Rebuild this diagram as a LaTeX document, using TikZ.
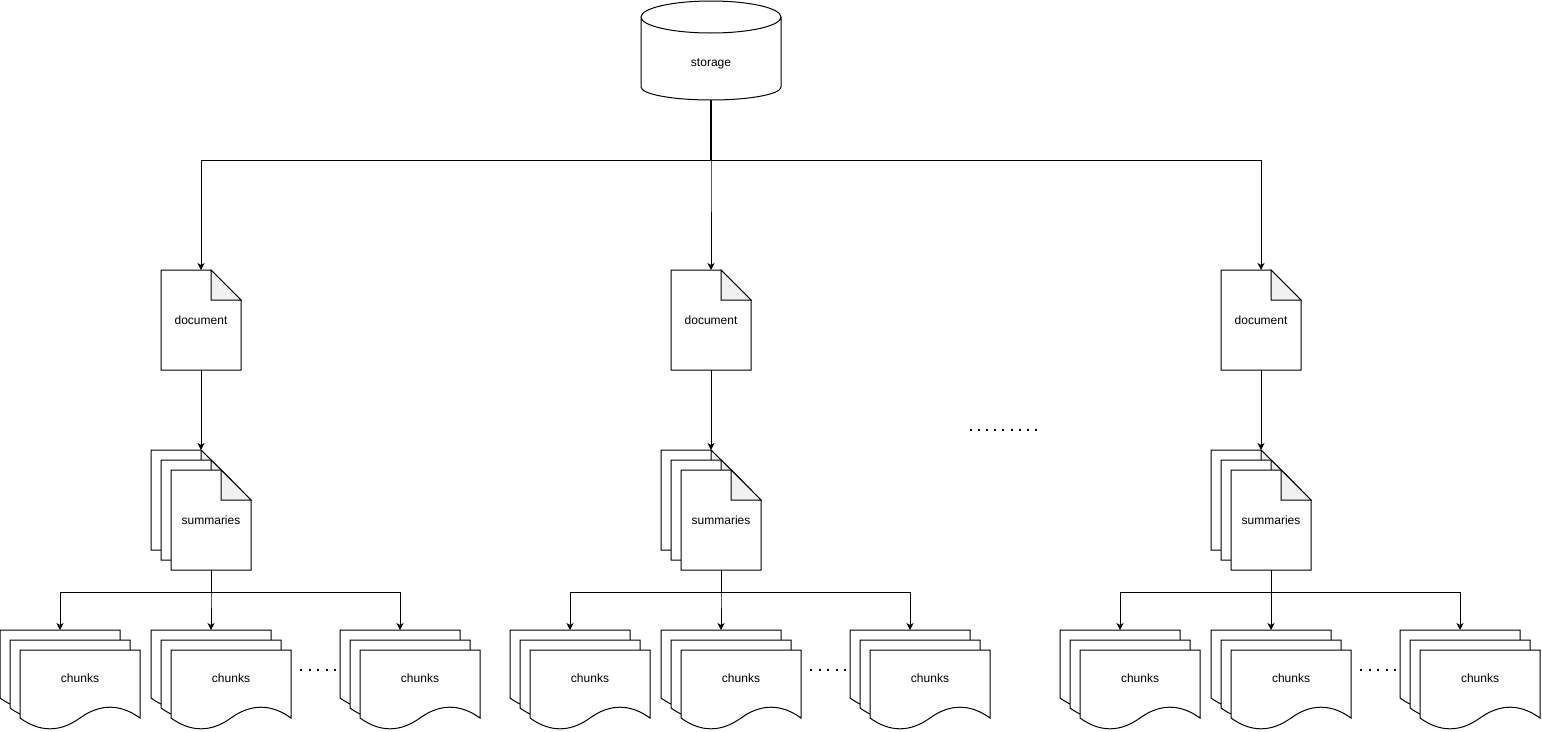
\documentclass[tikz,border=0pt]{standalone}
\usepackage{fontspec}
\setmainfont{Liberation Sans}
\usetikzlibrary{positioning, arrows.meta, calc, backgrounds}
\definecolor{foldgray}{HTML}{F1F1F1}

% folded sheet drawn round a named node
\newcommand{\foldsheet}[1]{%
  \draw[sheet] (#1.north west) -- ([xshift=-30pt]#1.north east) -- ([yshift=-30pt]#1.north east) -- (#1.south east) -- (#1.south west) -- cycle;
  \draw[sheet, fill=foldgray] ([xshift=-30pt]#1.north east) -- ([shift={(-30pt,-30pt)}]#1.north east) -- ([yshift=-30pt]#1.north east) -- cycle;}
% sheet with a wavy foot drawn round a named node
\newcommand{\wavesheet}[1]{%
  \draw[sheet] (#1.north west) -- (#1.north east) -- ([yshift=12pt]#1.south east)
    .. controls ([shift={(-20pt,26.4pt)}]#1.south east) and ([shift={(-40pt,26.4pt)}]#1.south east) .. ([shift={(-60pt,12pt)}]#1.south east)
    .. controls ([shift={(-80pt,-2.4pt)}]#1.south east) and ([shift={(-100pt,-2.4pt)}]#1.south east) .. ([yshift=12pt]#1.south west) -- cycle;}

\begin{document}
\begin{tikzpicture}[x=1pt, y=1pt,
    font=\fontsize{12pt}{14pt}\selectfont,
    sheet/.style={draw=black, fill=white, line width=1pt},
    docbox/.style={minimum width=80pt, minimum height=100pt, inner sep=0pt, outer sep=0pt},
    chunkbox/.style={minimum width=120pt, minimum height=80pt, inner sep=0pt, outer sep=0pt},
    arr/.style={-{Stealth[length=7pt, width=7pt, inset=2pt]}, line width=1pt},
    dots/.style={line width=2pt, dash pattern=on 2pt off 6.5pt},
]
\useasboundingbox (0,0) rectangle (1542,-731);
\node[minimum width=140pt, minimum height=99pt, inner sep=0pt, outer sep=0pt, label={[yshift=-13pt]center:storage}] (store) at (711,-50.5) {};
\begin{scope}[on background layer]
  \draw[sheet] ([yshift=-16pt]store.north west) -- ([yshift=13pt]store.south west) arc[start angle=180, end angle=360, x radius=70pt, y radius=13pt] -- ([yshift=-16pt]store.north east) arc[start angle=0, end angle=360, x radius=70pt, y radius=16pt];
\end{scope}
\draw[line width=2pt] (store.south) -- ++(0,-60);
\foreach \o/\c in {0/a, 510/b, 1060/c} {
  \node[docbox] (doc\c) at (201+\o,-320) {document};
  \node[docbox] (sum\c1) at (191+\o,-500) {};
  \node[docbox] (sum\c2) at (201+\o,-510) {};
  \node[docbox] (sum\c) at (211+\o,-520) {summaries};
  \begin{scope}[on background layer]
    \foldsheet{doc\c} \foldsheet{sum\c1} \foldsheet{sum\c2} \foldsheet{sum\c}
  \end{scope}
  \draw[arr] (store.south) -- ++(0,-60) -| (doc\c.north);
  \draw[arr] (doc\c.south) -- ([xshift=10pt]sum\c1.north);
  \foreach \k/\d in {0/1, 151/2, 340/3} {
    \node[chunkbox] (ch\c\d1) at (60+\o+\k,-670) {};
    \node[chunkbox] (ch\c\d2) at (70+\o+\k,-680) {};
    \node[chunkbox, label={[yshift=12pt]center:chunks}] (ch\c\d) at (80+\o+\k,-690) {};
    \begin{scope}[on background layer]
      \wavesheet{ch\c\d1} \wavesheet{ch\c\d2} \wavesheet{ch\c\d}
    \end{scope}
    \draw[arr] (sum\c.south) -- ++(0,-22) -| (ch\c\d1.north);
  }
  \draw[dots] ([xshift=9pt]ch\c2.east |- ch\c31.west) -- ([xshift=-2pt]ch\c31.west);
}
\coordinate (gapl) at (970,-430);
\coordinate (gapr) at (1039,-430);
\draw[dots, dash pattern=on 2pt off 6.1pt] (gapl) -- (gapr);
\end{tikzpicture}
\end{document}
